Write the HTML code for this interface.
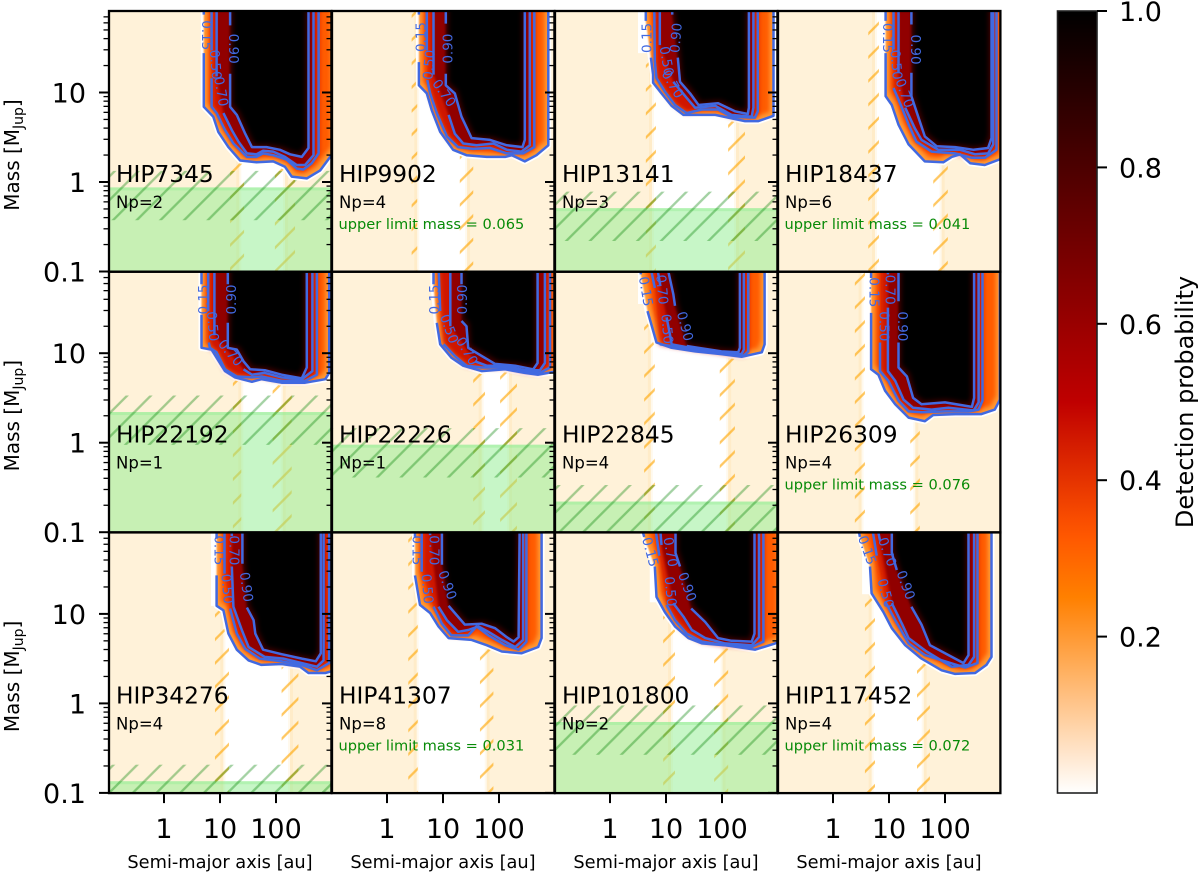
<!DOCTYPE html>
<html lang="en">
<head>
<meta charset="utf-8">
<title>Detection probability maps</title>
<style>
html,body{margin:0;padding:0;background:#fff;}
svg{display:block;font-family:"DejaVu Sans","Liberation Sans",sans-serif;}
</style>
</head>
<body>
<svg id="chart" xmlns="http://www.w3.org/2000/svg" width="1200" height="875" viewBox="0 0 1200 875">
  <defs>
    <pattern id="hatchGreen" patternUnits="userSpaceOnUse" x="0" y="0" width="23.7" height="23.7">
      <path d="M-2 3.4L3.4 -2M-2 27.1L27.1 -2M21.7 27.1L27.1 21.7" stroke="rgba(0,128,0,0.36)" stroke-width="2.3" fill="none"/>
    </pattern>
    <pattern id="hatchOrange" patternUnits="userSpaceOnUse" x="0" y="0" width="23.7" height="23.7">
      <path d="M-2 3.4L3.4 -2M-2 27.1L27.1 -2M21.7 27.1L27.1 21.7" stroke="rgba(255,165,0,0.62)" stroke-width="2.3" fill="none"/>
    </pattern>
    <filter id="blurA" x="-20%" y="-20%" width="140%" height="140%"><feGaussianBlur stdDeviation="0.8"/></filter>
    <filter id="blurB" x="-20%" y="-20%" width="140%" height="140%"><feGaussianBlur stdDeviation="2.6"/></filter>
    <filter id="blurC" x="-20%" y="-20%" width="140%" height="140%"><feGaussianBlur stdDeviation="1.3"/></filter>
    <filter id="erodeSoft" x="-20%" y="-20%" width="140%" height="140%"><feMorphology operator="erode" radius="4"/><feGaussianBlur stdDeviation="2.2"/></filter>
    <filter id="erodeBlur" x="-20%" y="-20%" width="140%" height="140%"><feMorphology operator="erode" radius="3"/><feGaussianBlur stdDeviation="2.4"/></filter>
    <linearGradient id="cbarGradient" x1="0" y1="1" x2="0" y2="0"></linearGradient>
  </defs>
</svg>
<script>
// ---------- figure data (log10 au for a, log10 MJup for m unless noted) ----------
const targetNames = ['HIP7345','HIP9902','HIP13141','HIP18437','HIP22192','HIP22226','HIP22845','HIP26309','HIP34276','HIP41307','HIP101800','HIP117452'];
const planetCounts = [2,4,3,6,1,1,4,4,4,8,2,4];
const upperLimitMass = [null,0.065,null,0.041,null,null,null,0.076,null,0.031,null,0.072];
const gasMassLimit = [0.87,null,0.51,null,2.2,0.95,0.22,null,0.135,null,0.62,null];
const gapInnerLogA = [1.345,0.54,0.75,0.75,1.38,1.69,0.73,0.51,1.06,0.53,1.09,0.69];
const gapOuterLogA = [2.16,1.43,2.25,1.94,2.12,2.18,2.11,1.47,2.25,1.78,2.01,1.62];
const innerHatchLo = [1.18,0.44,0.64,0.63,1.23,1.54,0.61,0.39,0.91,0.38,0.95,0.57];
const innerHatchHi = [1.43,0.54,0.82,0.82,1.38,1.75,0.80,0.57,1.16,0.55,1.16,0.75];
const outerHatchLo = [1.98,1.30,2.11,1.79,1.94,2.02,1.96,1.38,2.10,1.66,1.86,1.50];
const outerHatchHi = [2.34,1.54,2.41,2.05,2.28,2.32,2.23,1.55,2.40,1.90,2.11,1.73];
const heatEdgeLogA = [null,null,0.5,null,null,null,0.5,null,0.84,null,0.71,0.52];
const heatEdgeLogM = [null,null,1.44,null,null,null,1.55,null,1.09,null,1.13,1.22];
const massHatchUp = 1.53;
const massHatchDown = 0.43;
const xTickValues = [1,10,100];
const xTickLabels = ['1','10','100'];
const yMajorValues = [0.1,1,10];
const yMajorLabels = ['0.1','1','10'];
const yMinorValues = [0.2,0.3,0.4,0.5,0.6,0.7,0.8,0.9,2,3,4,5,6,7,8,9,20,30,40,50,60,70];
const cbarTickValues = [0.2,0.4,0.6,0.8,1.0];
const cbarTickLabels = ['0.2','0.4','0.6','0.8','1.0'];
const contourLevels = ['0.15','0.50','0.70','0.90'];

const hip7345C15 = [[.71,2],[.71,1.87],null,[.71,1.44],[.71,.84],[.88,.73],[.97,.56],[1.15,.39],[1.36,.24],[1.65,.22],[1.95,.23],[2.16,.17],[2.28,.06],[2.55,.04],[2.79,.13],[3.05,.35]];
const hip7345C50 = [[.85,2],[.85,1.47],null,[.85,1.16],[.85,.84],[.94,.77],[1.09,.58],[1.24,.43],[1.48,.28],[1.65,.28],[1.77,.32],[1.95,.30],[2.19,.25],[2.37,.15],[2.49,.14],[2.64,.21],[2.76,.32],[2.76,2]];
const hip7345C70 = [[.94,2],[.94,1.18],null,[1.06,.77],[1.21,.58],[1.33,.45],[1.48,.32],[1.65,.31],[1.77,.35],[1.95,.34],[2.16,.28],[2.37,.19],[2.52,.19],[2.67,.30],[2.67,2]];
const hip7345C90 = [[1.18,2],[1.18,1.75],null,[1.18,1.21],[1.18,.84],[1.30,.75],[1.45,.54],[1.57,.39],[1.83,.39],[2.07,.36],[2.25,.31],[2.46,.28],[2.58,.38],[2.58,2]];
const hip7345Labels = [[.15,.75,1.64,90],[.50,.91,1.31,85],[.70,1.01,1.01,80],[.90,1.23,1.49,90]];

const hip9902C15 = [[.57,2],[.57,1.87],null,[.57,1.34],[.57,1.08],[.71,.99],[.80,.80],[.95,.56],[1.18,.36],[1.42,.30],[1.78,.28],[2.11,.28],[2.23,.30],[2.46,.23],[2.67,.30],[2.88,.41],[2.88,2]];
const hip9902C50 = [[.71,2],[.71,1.47],null,[.72,1.14],[.77,.99],[.89,.77],[1.07,.51],[1.27,.39],[1.54,.37],[1.84,.38],[2.14,.32],[2.43,.32],[2.63,.39],[2.63,2]];
const hip9902C70 = [[.83,2],[.83,1.20],null,[1.10,.75],[1.21,.54],[1.36,.43],[1.60,.41],[1.90,.43],[2.14,.36],[2.40,.34],[2.55,.41],[2.55,2]];
const hip9902C90 = [[1.05,2],[1.05,1.77],null,[1.05,1.21],[1.05,1.08],[1.21,.99],[1.33,.73],[1.51,.49],[1.84,.47],[2.14,.41],[2.42,.39],[2.46,.47],[2.46,2]];
const hip9902Labels = [[.15,.62,1.62,-90],[.50,.76,1.31,-85],[.70,1.01,.99,55],[.90,1.10,1.49,-90]];

const hip13141C15 = [[.64,2],[.64,1.80],null,[.73,1.39],[.77,1.20],[.77,1.11],[.92,.99],[1.10,.85],[1.31,.75],[1.58,.75],[1.88,.75],[2.11,.72],[2.41,.68],[2.65,.68],[2.92,.74],[2.92,2]];
const hip13141C50 = [[.79,2],[.80,1.35],[.83,1.16],[.98,1.01],[1.16,.86],[1.37,.77],[1.64,.81],[1.93,.81],[2.17,.73],[2.59,.72],[2.64,.79],[2.64,2]];
const hip13141C70 = [[.89,2],[.89,1.53],null,[1.13,1.12],[1.37,.94],[1.52,.83],[1.88,.85],[2.17,.75],[2.53,.73],[2.56,.83],[2.56,2]];
const hip13141C90 = [[1.11,2],[1.11,1.87],null,[1.21,1.39],[1.25,1.12],[1.43,.99],[1.58,.86],[1.93,.88],[2.23,.79],[2.46,.76],[2.48,.83],[2.48,2]];
const hip13141Labels = [[.15,.67,1.61,-90],[.50,1.0,1.35,80],[.70,1.11,1.09,60],[.90,1.19,1.61,-85]];

const hip18437C15 = [[.94,2],[.94,1.80],null,[.94,1.44],[.94,.96],[1.05,.86],[1.17,.64],[1.35,.42],[1.64,.23],[1.97,.22],[2.12,.28],[2.27,.31],[2.45,.21],[2.71,.19],[3.05,.27]];
const hip18437C50 = [[1.08,2],[1.08,1.48],null,[1.08,1.05],[1.23,.83],[1.35,.64],[1.49,.45],[1.76,.34],[2.18,.32],[2.48,.27],[2.71,.27],[2.92,.36],[2.92,2]];
const hip18437C70 = [[1.17,2],[1.17,1.22],null,[1.29,.83],[1.46,.60],[1.58,.47],[1.88,.36],[2.27,.36],[2.54,.31],[2.77,.32],[2.86,.42],[2.86,2]];
const hip18437C90 = [[1.40,2],[1.40,1.76],null,[1.40,1.22],[1.40,.96],[1.49,.79],[1.64,.51],[1.85,.40],[2.18,.39],[2.51,.36],[2.77,.38],[2.83,.49],[2.83,2]];
const hip18437Labels = [[.15,.96,1.61,90],[.50,1.12,1.31,85],[.70,1.27,.99,70],[.90,1.46,1.48,90]];

const hip22192C15 = [[.67,2],[.67,1.77],null,[.67,1.43],[.67,1.06],[.85,1.04],[.94,.95],[1.09,.80],[1.27,.73],[1.57,.68],[1.74,.71],[2.10,.67],[2.52,.67],[2.88,.71],[2.95,.78],[2.95,2]];
const hip22192C50 = [[.79,2],[.79,1.47],null,[.80,1.12],[.82,1.06],[.94,1.01],[1.09,.82],[1.30,.74],[1.57,.73],[1.74,.74],[2.10,.69],[2.52,.69],[2.73,.76],[2.73,2]];
const hip22192C70 = [[.90,2],[.90,1.20],null,[1.42,.82],[1.57,.76],[1.80,.78],[2.10,.73],[2.46,.71],[2.65,.80],[2.65,2]];
const hip22192C90 = [[1.14,2],[1.14,1.77],null,[1.14,1.34],[1.14,1.06],[1.30,1.04],[1.42,.91],[1.54,.82],[1.80,.81],[2.10,.76],[2.46,.72],[2.55,.84],[2.55,2]];
const hip22192Labels = [[.15,.71,1.60,-90],[.50,.86,1.30,85],[.70,1.18,1.0,50],[.90,1.21,1.60,-90]];

const hip22226C15 = [[.83,2],[.83,1.77],null,[.89,1.34],[.95,1.10],[1.15,.95],[1.36,.86],[1.69,.80],[2.11,.82],[2.46,.78],[2.70,.76],[3.05,.80]];
const hip22226C50 = [[.92,2],[.95,1.47],null,[1.01,1.10],[1.21,.97],[1.42,.86],[1.69,.84],[2.11,.84],[2.46,.79],[2.73,.78],[2.91,.84],[2.91,2]];
const hip22226C70 = [[1.13,2],[1.13,1.30],null,[1.57,.91],[1.78,.86],[2.11,.86],[2.46,.81],[2.73,.81],[2.82,.89],[2.82,2]];
const hip22226C90 = [[1.33,2],[1.33,1.77],null,[1.33,1.36],[1.42,1.30],[1.45,1.06],[1.69,.97],[1.93,.88],[2.29,.86],[2.61,.82],[2.69,.89],[2.69,2]];
const hip22226Labels = [[.15,.86,1.60,-90],[.50,1.10,1.27,70],[.70,1.42,1.02,60],[.90,1.36,1.60,-90]];

const hip22845C15 = [[.55,2],[.55,1.88],null,[.67,1.47],[.74,1.32],[.83,1.12],[1.10,1.06],[1.52,1.02],[1.99,.99],[2.35,.96],[2.71,1.01],[2.76,1.10],[2.76,2]];
const hip22845C50 = [[.71,2],[.80,1.73],null,[.89,1.10],[1.52,1.04],[1.99,1.00],[2.38,.97],[2.47,1.02],[2.47,2]];
const hip22845C70 = [[.83,2],[.90,1.75],null,[1.01,1.40],[1.07,1.21],[1.10,1.10],[1.52,1.05],[1.99,1.01],[2.35,.99],[2.39,1.04],[2.39,2]];
const hip22845C90 = [[1.01,2],[1.13,1.66],[1.16,1.53],null,[1.37,1.08],[1.58,1.06],[1.99,1.02],[2.29,1.01],[2.32,1.06],[2.32,2]];
const hip22845Labels = [[.15,.63,1.69,80],[.70,.92,1.71,85],[.50,1.01,1.27,85],[.90,1.33,1.30,75]];

const hip26309C15 = [[.68,2],[.68,1.84],null,[.68,1.45],[.68,.82],[.81,.76],[.93,.58],[1.11,.43],[1.35,.28],[1.64,.24],[1.79,.31],[2.18,.32],[2.65,.32],[2.89,.37],[2.98,.48],[2.98,2]];
const hip26309C50 = [[.84,2],[.84,1.90],null,[.84,1.12],[.84,.80],[.99,.69],[1.17,.47],[1.35,.35],[1.58,.34],[2.00,.35],[2.42,.35],[2.60,.37],[2.67,.47],[2.67,2]];
const hip26309C70 = [[.98,2],[.98,1.88],null,[.98,1.51],[.98,.80],[1.11,.69],[1.26,.48],[1.43,.39],[1.76,.37],[2.06,.39],[2.51,.36],[2.60,.45],[2.60,2]];
const hip26309C90 = [[1.17,2],[1.17,1.58],null,[1.17,1.12],[1.17,.84],[1.32,.74],[1.43,.50],[1.58,.43],[2.00,.45],[2.48,.40],[2.52,.50],[2.52,2]];
const hip26309Labels = [[.15,.72,1.68,90],[.70,1.01,1.71,90],[.50,.90,1.30,90],[.90,1.23,1.30,90]];

const hip34276C15 = [[.94,2],[.94,1.84],null,[.94,1.43],[.94,1.09],[1.06,1.04],[1.15,.78],[1.30,.60],[1.51,.48],[1.74,.43],[2.10,.44],[2.43,.41],[2.58,.34],[2.88,.34],[3.05,.37]];
const hip34276C50 = [[1.08,2],[1.08,1.45],null,[1.18,1.06],[1.30,.78],[1.45,.61],[1.71,.50],[2.10,.47],[2.46,.43],[2.73,.37],[2.95,.45],[2.95,2]];
const hip34276C70 = [[1.21,2],[1.21,1.87],null,[1.21,1.53],[1.24,1.08],[1.39,.82],[1.51,.63],[1.80,.52],[2.13,.50],[2.46,.45],[2.73,.41],[2.85,.48],[2.85,2]];
const hip34276C90 = [[1.40,2],[1.40,1.56],null,[1.48,1.07],[1.60,.93],[1.63,.78],[1.77,.60],[2.10,.55],[2.46,.50],[2.71,.47],[2.80,.56],[2.80,2]];
const hip34276Labels = [[.15,.97,1.71,90],[.70,1.24,1.71,90],[.50,1.12,1.28,85],[.90,1.46,1.30,82]];

const hip41307C15 = [[.50,2],[.50,1.86],null,[.50,1.43],[.59,1.10],[.77,1.01],[.92,.86],[1.10,.73],[1.51,.71],[1.78,.65],[2.05,.58],[2.40,.56],[2.70,.63],[2.76,.73],[2.76,2]];
const hip41307C50 = [[.62,2],[.62,1.47],null,[.83,1.08],[.98,.89],[1.15,.76],[1.45,.76],[1.60,.86],[1.81,.76],[2.11,.65],[2.35,.60],[2.49,.69],[2.49,2]];
const hip41307C70 = [[.77,2],[.77,1.88],null,[.92,1.08],[1.07,.93],[1.27,.80],[1.45,.82],[1.63,.86],[1.81,.80],[2.05,.71],[2.29,.63],[2.43,.71],[2.43,2]];
const hip41307C90 = [[.98,2],[.98,1.55],null,[1.10,1.09],[1.21,1.01],[1.39,.88],[1.69,.89],[1.93,.84],[2.14,.74],[2.26,.69],[2.35,.74],[2.37,2]];
const hip41307Labels = [[.15,.53,1.71,90],[.70,.83,1.71,90],[.50,.71,1.28,85],[.90,1.07,1.32,70]];

const hip101800C15 = [[.55,2],[.61,1.86],null,[.80,1.53],[.83,1.19],[.98,1.02],[1.16,.86],[1.40,.73],[1.64,.67],[2.05,.65],[2.59,.60],[2.95,.67],[3.05,.70]];
const hip101800C50 = [[.80,2],[.88,1.65],null,[1.01,1.10],[1.16,.93],[1.37,.78],[1.64,.69],[2.05,.65],[2.53,.63],[2.74,.69],[2.74,2]];
const hip101800C70 = [[.89,2],[.92,1.77],null,[1.13,1.12],[1.31,.97],[1.46,.82],[1.70,.73],[2.05,.67],[2.53,.65],[2.66,.74],[2.66,2]];
const hip101800C90 = [[1.17,2],[1.17,1.68],[1.25,1.53],null,[1.45,1.06],[1.70,.91],[1.93,.73],[2.17,.70],[2.53,.69],[2.58,.78],[2.58,2]];
const hip101800Labels = [[.15,.71,1.69,75],[.70,1.07,1.69,80],[.50,1.07,1.25,85],[.90,1.37,1.30,70]];

const hip117452C15 = [[.44,2],[.48,1.86],null,[.66,1.53],[.69,1.23],[.90,1.02],[1.05,.84],[1.29,.65],[1.58,.50],[1.94,.37],[2.18,.33],[2.54,.34],[2.74,.43],[2.83,.52],[2.83,2]];
const hip117452C50 = [[.69,2],[.78,1.65],null,[.93,1.14],[1.11,.93],[1.35,.67],[1.64,.54],[2.00,.47],[2.36,.40],[2.58,.45],[2.58,2]];
const hip117452C70 = [[.78,2],[.84,1.82],null,[1.05,1.12],[1.23,.89],[1.35,.73],[1.67,.58],[2.12,.41],[2.42,.43],[2.52,.52],[2.52,2]];
const hip117452C90 = [[1.05,2],[1.05,1.68],[1.14,1.49],null,[1.40,1.08],[1.58,.88],[1.73,.65],[2.18,.50],[2.33,.45],[2.42,.54],[2.42,2]];
const hip117452Labels = [[.15,.60,1.71,70],[.70,.96,1.69,70],[.50,.93,1.23,75],[.90,1.29,1.32,70]];

const panelContours = [
  [hip7345C15,hip7345C50,hip7345C70,hip7345C90],
  [hip9902C15,hip9902C50,hip9902C70,hip9902C90],
  [hip13141C15,hip13141C50,hip13141C70,hip13141C90],
  [hip18437C15,hip18437C50,hip18437C70,hip18437C90],
  [hip22192C15,hip22192C50,hip22192C70,hip22192C90],
  [hip22226C15,hip22226C50,hip22226C70,hip22226C90],
  [hip22845C15,hip22845C50,hip22845C70,hip22845C90],
  [hip26309C15,hip26309C50,hip26309C70,hip26309C90],
  [hip34276C15,hip34276C50,hip34276C70,hip34276C90],
  [hip41307C15,hip41307C50,hip41307C70,hip41307C90],
  [hip101800C15,hip101800C50,hip101800C70,hip101800C90],
  [hip117452C15,hip117452C50,hip117452C70,hip117452C90]
];
const panelLabels = [hip7345Labels,hip9902Labels,hip13141Labels,hip18437Labels,hip22192Labels,hip22226Labels,hip22845Labels,hip26309Labels,hip34276Labels,hip41307Labels,hip101800Labels,hip117452Labels];

// ---------- layout and scales ----------
const NS = 'http://www.w3.org/2000/svg';
const svg = document.getElementById('chart');
const colLeft = [109,332,555,778];
const rowTop = [11,271.7,532.4];
const panelW = 222.4;
const panelH = 260.7;
const xDecade = 56;
const yDecade = 89.5;
const xPos = (i, logA) => colLeft[i % 4] + 55 + xDecade * logA;
const yPos = (i, logM) => rowTop[Math.floor(i / 4)] + 171 - yDecade * logM;

function make(parent, tag, attrs, text) {
  const el = document.createElementNS(NS, tag);
  for (const k in attrs) el.setAttribute(k, attrs[k]);
  if (text !== undefined) el.textContent = text;
  parent.appendChild(el);
  return el;
}
function heatColor(p) {
  const v = 1 - p;
  const c = t => Math.round(255 * Math.max(0, Math.min(1, t)));
  return 'rgb(' + c(1.5 * v) + ',' + c(2 * v - 1) + ',' + c(4 * v - 3) + ')';
}
function linePath(i, pts) {
  let d = '', pen = false;
  pts.forEach(pt => {
    if (!pt) { pen = false; return; }
    d += (pen ? 'L' : 'M') + xPos(i, pt[0]).toFixed(1) + ' ' + yPos(i, pt[1]).toFixed(1);
    pen = true;
  });
  return d;
}
function fillPath(i, pts) {
  const solid = pts.filter(Boolean);
  const last = solid[solid.length - 1];
  const closed = solid.concat([[last[0], 2.05], [solid[0][0], 2.05]]);
  return linePath(i, closed) + 'Z';
}

// ---------- panels ----------
const defs = svg.querySelector('defs');
targetNames.forEach((name, i) => {
  const left = colLeft[i % 4];
  const top = rowTop[Math.floor(i / 4)];
  const clip = make(defs, 'clipPath', { id: 'clip' + i });
  make(clip, 'rect', { x: left, y: top, width: panelW, height: panelH });

  const panel = make(svg, 'g', { 'clip-path': 'url(#clip' + i + ')' });
  
  

  const bg = make(panel, 'rect', { x: left, y: top, width: panelW, height: panelH, fill: '#fff' });
  
  

  const inner = xPos(i, gapInnerLogA[i]);
  const outer = xPos(i, gapOuterLogA[i]);
  const innerBand = make(panel, 'rect', { x: left, y: top, width: inner - left, height: panelH, fill: 'rgba(255,165,0,0.15)' });
  
  
  const outerBand = make(panel, 'rect', { x: outer, y: top, width: left + panelW - outer, height: panelH, fill: 'rgba(255,165,0,0.15)' });
  
  
  make(panel, 'rect', { x: inner - 3, y: top, width: 5, height: panelH, fill: 'rgba(255,165,0,0.07)' });
  make(panel, 'rect', { x: outer - 2, y: top, width: 5, height: panelH, fill: 'rgba(255,165,0,0.07)' });

  const hatchA = make(panel, 'rect', { x: xPos(i, innerHatchLo[i]), y: top, width: xPos(i, innerHatchHi[i]) - xPos(i, innerHatchLo[i]), height: panelH, fill: 'url(#hatchOrange)' });
  
  
  const hatchB = make(panel, 'rect', { x: xPos(i, outerHatchLo[i]), y: top, width: xPos(i, outerHatchHi[i]) - xPos(i, outerHatchLo[i]), height: panelH, fill: 'url(#hatchOrange)' });
  
  

  if (gasMassLimit[i] !== null) {
    const limitY = yPos(i, Math.log10(gasMassLimit[i]));
    const greenRect = make(panel, 'rect', { x: left, y: limitY, width: panelW, height: top + panelH - limitY, fill: 'rgba(144,238,144,0.5)' });
    
    
    make(panel, 'rect', { x: left, y: limitY, width: panelW, height: 3, fill: 'rgba(144,238,144,0.4)' });
    const hatchTop = yPos(i, Math.log10(gasMassLimit[i] * massHatchUp));
    const hatchBottom = yPos(i, Math.log10(gasMassLimit[i] * massHatchDown));
    const greenHatch = make(panel, 'rect', { x: left, y: hatchTop, width: panelW, height: hatchBottom - hatchTop, fill: 'url(#hatchGreen)' });
    
    
  }

  // detection probability map from the contour levels
  if (heatEdgeLogA[i] !== null) {
    const ex = xPos(i, heatEdgeLogA[i]);
    const patch = make(panel, 'rect', { x: ex, y: top, width: 16, height: yPos(i, heatEdgeLogM[i]) - top, fill: '#ffffff' });
    
    
  }
  const contours = panelContours[i];
  const halo = make(panel, 'path', { d: fillPath(i, contours[0]), fill: '#ffffff', stroke: '#ffffff', 'stroke-width': 6, 'stroke-linejoin': 'round' });
  
  
  const layers = [
    [contours[0], heatColor(0.2), 'blurA'],
    [contours[0], heatColor(0.32), 'erodeSoft'],
    [contours[1], heatColor(0.46), 'blurB'],
    [contours[2], heatColor(0.62), 'blurC'],
    [contours[3], heatColor(0.85), 'blurC'],
    [contours[3], heatColor(1.0), 'erodeBlur']
  ];
  layers.forEach((layer, k) => {
    const area = make(panel, 'path', { d: fillPath(i, layer[0]), fill: layer[1], filter: 'url(#' + layer[2] + ')' });
    
    
  });
  contours.forEach((pts, k) => {
    const line = make(panel, 'path', { d: linePath(i, pts), fill: 'none', stroke: '#4169e1', 'stroke-width': 2.5, 'stroke-linejoin': 'round' });
    
    
  });
  panelLabels[i].forEach(lab => {
    const px = xPos(i, lab[1]);
    const py = yPos(i, lab[2]);
    const t = make(panel, 'text', { x: px, y: py, fill: '#4169e1', 'font-size': 13.5, 'text-anchor': 'middle', 'dominant-baseline': 'central', transform: 'rotate(' + lab[3] + ' ' + px + ' ' + py + ')' }, lab[0].toFixed(2));
    
    
  });

  const title = make(panel, 'text', { x: left + 7, y: top + 171, 'font-size': 23.3, fill: '#000' }, name);
  
  
  const np = make(panel, 'text', { x: left + 7, y: top + 197, 'font-size': 16.5, fill: '#000' }, 'Np=' + planetCounts[i]);
  
  
  if (upperLimitMass[i] !== null) {
    const ul = make(panel, 'text', { x: left + 6.5, y: top + 218, 'font-size': 14.6, fill: '#078a07' }, 'upper limit mass = ' + upperLimitMass[i].toFixed(3));
    
    
  }
});

// ---------- frames, ticks and axis text (above all panels) ----------
targetNames.forEach((name, i) => {
  const left = colLeft[i % 4];
  const top = rowTop[Math.floor(i / 4)];
  const frame = make(svg, 'rect', { x: left, y: top, width: panelW, height: panelH, fill: 'none', stroke: '#000', 'stroke-width': 2.3 });
  
  
  yMajorValues.forEach((val, k) => {
    const y = yPos(i, Math.log10(val));
    const tick = make(svg, 'line', { x1: left, x2: left - 10, y1: y, y2: y, stroke: '#000', 'stroke-width': 2 });
    
    
    if (i % 4 === 0) {
      const t = make(svg, 'text', { x: 86, y: y + 10, 'font-size': 27, 'text-anchor': 'end', fill: '#000' }, yMajorLabels[k]);
      
      
    }
  });
  yMinorValues.forEach(val => {
    const y = yPos(i, Math.log10(val));
    if (y < top) return;
    const tick = make(svg, 'line', { x1: left, x2: left - 5.5, y1: y, y2: y, stroke: '#000', 'stroke-width': 1.3 });
    
    
  });
  if (i >= 8) {
    xTickValues.forEach((val, k) => {
      const x = xPos(i, Math.log10(val));
      const tick = make(svg, 'line', { x1: x, x2: x, y1: top + panelH, y2: top + panelH + 10, stroke: '#000', 'stroke-width': 2 });
      
      
      const t = make(svg, 'text', { x: x, y: 838, 'font-size': 27, 'text-anchor': 'middle', fill: '#000' }, xTickLabels[k]);
      
      
    });
    const xt = make(svg, 'text', { x: left + 111, y: 868, 'font-size': 17.8, 'text-anchor': 'middle', fill: '#000' }, 'Semi-major axis [au]');
    
    
  }
  if (i % 4 === 0) {
    const cy = top + 144;
    const yt = make(svg, 'text', { x: 19, y: cy, 'font-size': 20, 'text-anchor': 'middle', fill: '#000', transform: 'rotate(-90 19 ' + cy + ')' }, 'Mass [M');
    
    
    make(yt, 'tspan', { 'font-size': 14, dy: 4 }, 'Jup');
    make(yt, 'tspan', { dy: -4 }, ']');
  }
});

// ---------- colorbar ----------
const cbX = 1057.5, cbW = 39.5, cbTop = 11, cbBottom = 793;
const cbY = p => cbBottom - (cbBottom - cbTop) * p;
const gradient = document.getElementById('cbarGradient');
for (let s = 0; s <= 40; s++) {
  make(gradient, 'stop', { offset: (s / 40), 'stop-color': heatColor(s / 40) });
}
const cbar = make(svg, 'rect', { x: cbX, y: cbTop, width: cbW, height: cbBottom - cbTop, fill: 'url(#cbarGradient)', stroke: '#222', 'stroke-width': 1.6 });


cbarTickValues.forEach((val, k) => {
  const y = cbY(val);
  const tick = make(svg, 'line', { x1: cbX + cbW, x2: cbX + cbW + 10, y1: y, y2: y, stroke: '#000', 'stroke-width': 2 });
  
  
  const t = make(svg, 'text', { x: 1119, y: y + 10, 'font-size': 27, fill: '#000' }, cbarTickLabels[k]);
  
  
});
const cbTitle = make(svg, 'text', { x: 1193, y: 402, 'font-size': 24, 'text-anchor': 'middle', fill: '#000', transform: 'rotate(-90 1193 402)' }, 'Detection probability');


</script>
</body>
</html>
